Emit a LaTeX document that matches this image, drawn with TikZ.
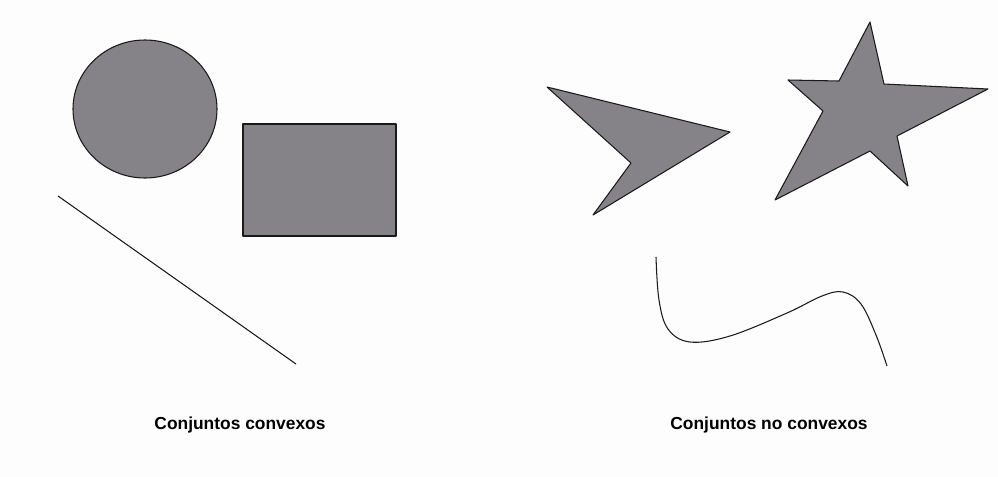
\documentclass[tikz,border=0pt]{standalone}
\usepackage{fontspec}
\setsansfont{Liberation Sans}
\usetikzlibrary{positioning}
\definecolor{paper}{HTML}{FCFDFC}
\definecolor{setgray}{HTML}{858387}
\definecolor{ink}{HTML}{1A1A1A}

\begin{document}
\begin{tikzpicture}[
  x=0.02cm,y=-0.02cm,
  font=\sffamily,
  setshape/.style={draw=ink,fill=setgray,line width=0.6pt,line join=round},
  setline/.style={draw=ink,line width=0.6pt},
  caption/.style={font=\fontsize{9.9}{12}\selectfont\sffamily\bfseries,text=black}
]

% Background.
\fill[paper] (0,0) rectangle (998,477);
\useasboundingbox (0,0) rectangle (998,477);

% -------------------------------------------------------------------------
% Convex sets.
\draw[setshape] (145,109) ellipse [x radius=72,y radius=69];
\draw[setshape] (243,124) rectangle (396,236);
\draw[setline] (58,196) -- (296,364);

\node[caption] (convex) at (240,425) {Conjuntos convexos};

% -------------------------------------------------------------------------
% Non-convex sets.
\draw[setshape] (547,87) -- (730,132) -- (593,215) -- (631,163) -- cycle;
\draw[setshape] (870,22) -- (884,84) -- (988,89) -- (897,136) -- (908,186)
  -- (870,151) -- (775,200) -- (823,111) -- (788,80) -- (839,81) -- cycle;
\draw[setline] plot[smooth,tension=0.6] coordinates {
  (656,257) (659,300) (668,329) (690,342) (730,336) (787,313)
  (822,296) (843,292) (861,304) (876,335) (887,366)};

\node[caption] (nonconvex) at (769,425) {Conjuntos no convexos};

\end{tikzpicture}
\end{document}
